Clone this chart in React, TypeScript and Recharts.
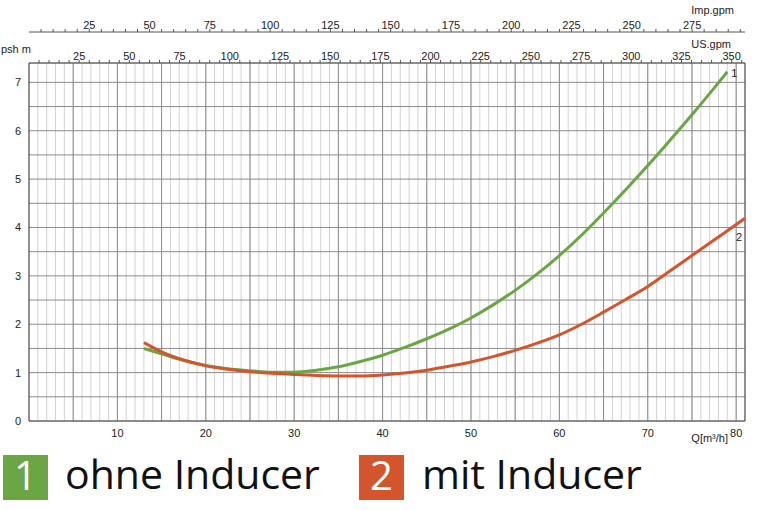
import { LineChart, Line, XAxis, YAxis, CartesianGrid, ReferenceLine, Label } from 'recharts';

// pump NPSH curves, Q in m³/h, psh in m
const qOhne = [13, 15, 17.5, 20, 22.5, 25, 27.5, 30, 32.5, 35, 37.5, 40, 42.5, 45, 47.5, 50, 52.5, 55, 57.5, 60, 62.5, 65, 67.5, 70, 72.5, 75, 77.5, 79];
const hOhne = [1.50, 1.39, 1.25, 1.15, 1.08, 1.04, 1.01, 1.01, 1.05, 1.12, 1.23, 1.36, 1.52, 1.70, 1.90, 2.13, 2.40, 2.70, 3.04, 3.42, 3.84, 4.30, 4.78, 5.28, 5.80, 6.33, 6.88, 7.22];
const qMit = [13, 15, 17.5, 20, 22.5, 25, 27.5, 30, 32.5, 35, 37.5, 40, 42.5, 45, 47.5, 50, 52.5, 55, 57.5, 60, 62.5, 65, 67.5, 70, 72.5, 75, 77.5, 80, 81];
const hMit = [1.62, 1.43, 1.26, 1.14, 1.07, 1.02, 0.985, 0.96, 0.94, 0.93, 0.93, 0.95, 0.99, 1.05, 1.13, 1.22, 1.33, 1.46, 1.61, 1.78, 2.0, 2.25, 2.51, 2.78, 3.1, 3.42, 3.74, 4.06, 4.19];

const qLabels = [10, 20, 30, 40, 50, 60, 70, 80];
const majorQ = [5, 10, 15, 20, 25, 30, 35, 40, 45, 50, 55, 60, 65, 70, 75, 80];
const yLabels = [0, 1, 2, 3, 4, 5, 6, 7];
const usLabels = [25, 50, 75, 100, 125, 150, 175, 200, 225, 250, 275, 300, 325, 350];
const impLabels = [25, 50, 75, 100, 125, 150, 175, 200, 225, 250, 275];

const Q_MAX = 81;
const US_PER_M3H = 4.403;
const IMP_PER_M3H = 3.666;

const step = (max: number, s: number) => Array.from({ length: Math.floor(max / s) + 1 }, (_, i) => +(i * s).toFixed(2));
const qTicks = step(Q_MAX, 1);
const yTicks = step(7, 0.5);
const usTicks = step(Q_MAX * US_PER_M3H, 5).slice(1);
const impTicks = step(Q_MAX * IMP_PER_M3H, 5).slice(1);

const ohneData = qOhne.map((q, i) => ({ q, h: hOhne[i] }));
const mitData = qMit.map((q, i) => ({ q, h: hMit[i] }));
// same curve in the other flow units, only so the top axes get a scale
const usData = ohneData.map(d => ({ us: d.q * US_PER_M3H, h: d.h }));
const impData = ohneData.map(d => ({ imp: d.q * IMP_PER_M3H, h: d.h }));

const GREEN = '#6aa643';
const RED = '#d2552d';
const FONT = '"Liberation Sans", Arial, sans-serif';

const topTick = (labels: number[]) => (p: any) => (
  <g>
    <text x={p.x} y={p.y + 1.5} textAnchor="middle" fontSize={11} fill="#222" fontFamily={FONT}>
      {labels.includes(p.payload.value) ? p.payload.value : ''}
    </text>
  </g>
);

const endLabel = (n: string, last: number, dx: number, dy: number, anchor: string) => (p: any) =>
  p.index === last ? (
    <text x={p.x + dx} y={p.y + dy} textAnchor={anchor} fontSize={11} fill="#222" fontFamily={FONT}>{n}</text>
  ) : null;

export default function App() {
  return (
    <div style={{ position: 'absolute', left: 0, top: 0, width: 768, height: 510, background: '#fff' }}>
      <LineChart width={768} height={450} margin={{ top: 0, right: 23, bottom: 0, left: 0 }}>
        <CartesianGrid xAxisId="q" horizontal={false} stroke="#d2d2d2" strokeWidth={1} />
        <CartesianGrid xAxisId="q" vertical={false} stroke="#8c8c8c" strokeWidth={1} />
        {majorQ.map(v => (
          <ReferenceLine key={v} xAxisId="q" x={v} stroke="#8c8c8c" strokeWidth={1} />
        ))}
        <ReferenceLine xAxisId="q" x={Q_MAX} stroke="#555" strokeWidth={1.2} />
        <XAxis xAxisId="q" type="number" dataKey="q" domain={[0, Q_MAX]} ticks={qTicks} interval={0}
          height={29} tickLine={false} axisLine={{ stroke: '#555', strokeWidth: 1.2 }} allowDataOverflow
          tick={{ fontSize: 11, fill: '#222', fontFamily: FONT }}
          tickFormatter={(v: number) => (qLabels.includes(v) ? String(v) : '')}>
          <Label content={(p: any) => (
            <text x={p.viewBox.x + p.viewBox.width - 17} y={p.viewBox.y + 21} textAnchor="end" fontSize={11} fill="#222" fontFamily={FONT}>Q[m³/h]</text>
          )} />
        </XAxis>
        <XAxis xAxisId="a_us" dataKey="us" orientation="top" type="number" domain={[0, Q_MAX * US_PER_M3H]} ticks={usTicks}
          interval={0} height={31} tickSize={3} allowDataOverflow
          axisLine={{ stroke: '#555', strokeWidth: 1.2 }} tickLine={{ stroke: '#555' }} tick={topTick(usLabels)}>
          <Label content={(p: any) => (
            <text x={p.viewBox.x + p.viewBox.width - 14} y={p.viewBox.y + 16} textAnchor="end" fontSize={11} fill="#222" fontFamily={FONT}>US.gpm</text>
          )} />
        </XAxis>
        <XAxis xAxisId="b_imp" dataKey="imp" orientation="top" type="number" domain={[0, Q_MAX * IMP_PER_M3H]} ticks={impTicks}
          interval={0} height={32} tickSize={3} allowDataOverflow
          axisLine={{ stroke: '#555', strokeWidth: 1 }} tickLine={{ stroke: '#555' }} tick={topTick(impLabels)}>
          <Label content={(p: any) => (
            <text x={p.viewBox.x + p.viewBox.width - 11} y={p.viewBox.y + 14} textAnchor="end" fontSize={11} fill="#222" fontFamily={FONT}>Imp.gpm</text>
          )} />
        </XAxis>
        <YAxis type="number" domain={[0, 7.4]} ticks={yTicks} interval={0} width={29} tickLine={false}
          axisLine={{ stroke: '#555', strokeWidth: 1.2 }} allowDataOverflow
          tick={{ fontSize: 11, fill: '#222', fontFamily: FONT }}
          tickFormatter={(v: number) => (yLabels.includes(v) ? String(v) : '')}>
          <Label content={(p: any) => (
            <text x={1} y={p.viewBox.y - 10} textAnchor="start" fontSize={11} fill="#222" fontFamily={FONT}>psh m</text>
          )} />
        </YAxis>
        <Line xAxisId="a_us" data={usData} dataKey="h" stroke="none" dot={false} isAnimationActive={false} />
        <Line xAxisId="b_imp" data={impData} dataKey="h" stroke="none" dot={false} isAnimationActive={false} />
        <Line xAxisId="q" data={ohneData} dataKey="h" type="monotone" stroke={GREEN} strokeWidth={3}
          dot={false} isAnimationActive={false} label={endLabel('1', qOhne.length - 1, 4, 5, 'start')} />
        <Line xAxisId="q" data={mitData} dataKey="h" type="monotone" stroke={RED} strokeWidth={3}
          dot={false} isAnimationActive={false} label={endLabel('2', qMit.length - 1, -6, 23, 'middle')} />
      </LineChart>
      <div style={{ position: 'absolute', left: 3, top: 455, width: 45, height: 45, background: GREEN, color: '#fff',
        fontFamily: '"Open Sans", sans-serif', fontSize: 40, lineHeight: '40px', textAlign: 'center' }}>1</div>
      <div style={{ position: 'absolute', left: 65, top: 453, fontFamily: '"Open Sans", sans-serif', fontSize: 41,
        lineHeight: '40px', color: '#111', whiteSpace: 'nowrap' }}>ohne Inducer</div>
      <div style={{ position: 'absolute', left: 359, top: 455, width: 45, height: 45, background: RED, color: '#fff',
        fontFamily: '"Open Sans", sans-serif', fontSize: 40, lineHeight: '40px', textAlign: 'center' }}>2</div>
      <div style={{ position: 'absolute', left: 422, top: 453, fontFamily: '"Open Sans", sans-serif', fontSize: 41,
        lineHeight: '40px', color: '#111', whiteSpace: 'nowrap' }}>mit Inducer</div>
    </div>
  );
}
